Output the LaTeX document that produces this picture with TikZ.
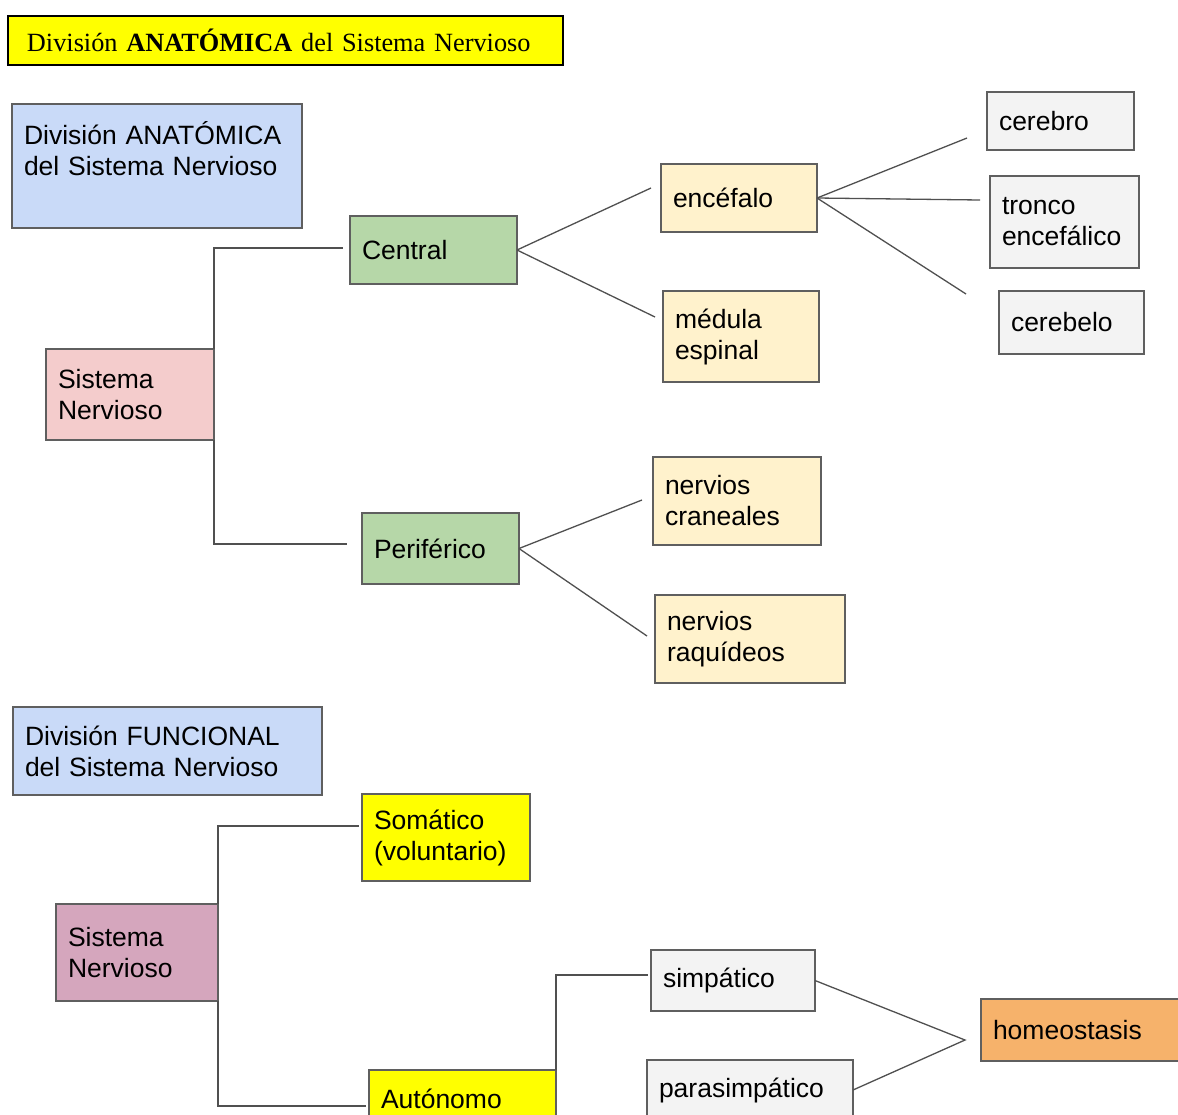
\documentclass[tikz,border=0pt]{standalone}
\usepackage{fontspec}
\setmainfont{Liberation Sans}
\newfontfamily\titlefont{Liberation Serif}
\definecolor{cblue}{HTML}{C9DAF8}
\definecolor{cgreen}{HTML}{B6D7A8}
\definecolor{cpink}{HTML}{F4CCCC}
\definecolor{clyel}{HTML}{FFF2CC}
\definecolor{cgray}{HTML}{F3F3F3}
\definecolor{cyel}{HTML}{FFFF00}
\definecolor{cpurp}{HTML}{D5A6BD}
\definecolor{corange}{HTML}{F6B26B}
\definecolor{bord}{HTML}{5F5F5F}
\definecolor{lnc}{HTML}{505050}
\begin{document}
\begin{tikzpicture}[x=1pt,y=-1pt,
  bx/.style={draw=bord, line width=1.2pt, rectangle, inner xsep=12pt, inner ysep=0pt,
    outer sep=0pt, align=left, font=\fontsize{26.5}{31}\selectfont},
  sz/.code 2 args={\pgfmathsetmacro\mytw{#1-24}%
    \edef\mytmp{\noexpand\tikzset{minimum width=#1pt, minimum height=#2pt, text width=\mytw pt}}\mytmp},
  ln/.style={draw=lnc, line width=1.3pt}]
\useasboundingbox (0,0) rectangle (1178,1114);
\clip (0,0) rectangle (1178,1114);
\fill[white] (0,0) rectangle (1178,1114);

% title
\node[draw=black, line width=2pt, fill=cyel, rectangle, outer sep=0pt, inner ysep=0pt, inner xsep=19pt,
  minimum width=555pt, minimum height=49pt, text width=517pt, align=left,
  font=\titlefont\fontsize{26.3}{32}\selectfont] (title) at (285.5,40.5)
  {División \textbf{ANATÓMICA} del Sistema Nervioso};

% anatomical division
\node[bx, fill=cblue, sz={290}{124}] (blue1) at (157,166) {División ANATÓMICA\\del Sistema Nervioso\\[3pt]\mbox{}};
\node[bx, fill=cgreen, sz={167}{68}] (central) at (433.5,250) {Central};
\node[bx, fill=cpink, sz={168}{91}] (sn1) at (130,394.5) {Sistema\\Nervioso};
\node[bx, fill=clyel, sz={156}{68}] (enc) at (739,198) {encéfalo};
\node[bx, fill=clyel, sz={156}{91}] (med) at (741,336.5) {médula\\espinal};
\node[bx, fill=cgray, sz={147}{58}] (cerebro) at (1060.5,121) {cerebro};
\node[bx, fill=cgray, sz={149}{92}] (tronco) at (1064.5,222) {tronco\\encefálico};
\node[bx, fill=cgray, sz={145}{63}] (cerebelo) at (1071.5,322.5) {cerebelo};
\node[bx, fill=cgreen, sz={157}{71}] (per) at (440.5,548.5) {Periférico};
\node[bx, fill=clyel, sz={168}{88}] (cran) at (737,501) {nervios\\craneales};
\node[bx, fill=clyel, sz={190}{88}] (raq) at (750,639) {nervios\\raquídeos};

% functional division
\node[bx, fill=cblue, sz={309}{88}] (blue2) at (167.5,751) {División FUNCIONAL\\del Sistema Nervioso};
\node[bx, fill=cyel, sz={168}{87}] (som) at (446,837.5) {Somático\\(voluntario)};
\node[bx, fill=cpurp, sz={162}{97}] (sn2) at (137,952.5) {Sistema\\Nervioso};
\node[bx, fill=cyel, sz={187}{58}] (aut) at (462.5,1099) {Autónomo};
\node[bx, fill=cgray, sz={164}{61}] (simp) at (733,980.5) {simpático};
\node[bx, fill=cgray, sz={206}{60}] (para) at (750,1090) {parasimpático};
\node[bx, fill=corange, sz={209}{62}] (homeo) at (1085.5,1030) {homeostasis};

% free connector ends
\coordinate (ce1) at (343,248);
\coordinate (pe1) at (347,544);
\coordinate (en1) at (651,188);
\coordinate (me1) at (655,317);
\coordinate (cb1) at (967,138);
\coordinate (tr1) at (980,200);
\coordinate (cl1) at (966,294);
\coordinate (cr1) at (642,500);
\coordinate (rq1) at (647,636);
\coordinate (so1) at (359,826);
\coordinate (au1) at (366,1106);
\coordinate (si1) at (648,975);
\coordinate (hm1) at (965,1040);

% connectors
\draw[ln] (sn1.north east) |- (ce1);
\draw[ln] (sn1.south east) |- (pe1);
\draw[ln] (central.east) -- (en1);
\draw[ln] (central.east) -- (me1);
\draw[ln] (enc.east) -- (cb1);
\draw[ln] (enc.east) -- (tr1);
\draw[ln] (enc.east) -- (cl1);
\draw[ln] (per.east) -- (cr1);
\draw[ln] (per.east) -- (rq1);
\draw[ln] (sn2.north east) |- (so1);
\draw[ln] (sn2.south east) |- (au1);
\draw[ln] (aut.north east) |- (si1);
\draw[ln] (simp.east) -- (hm1) -- (para.east);
\end{tikzpicture}
\end{document}
